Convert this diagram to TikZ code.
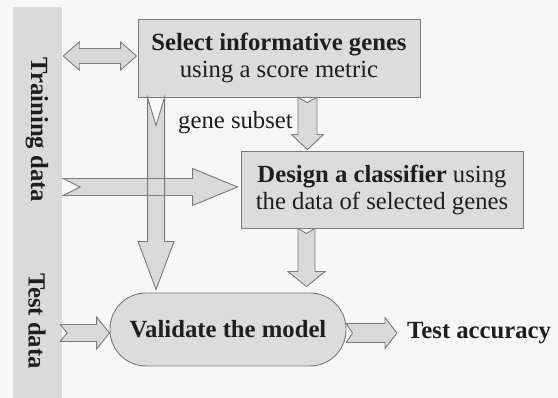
\documentclass[tikz,border=0pt]{standalone}
\usepackage{fontspec}
\setmainfont{Liberation Serif}
\usetikzlibrary{calc}
\definecolor{bgcol}{HTML}{F7F7F7}
\definecolor{stripcol}{HTML}{DADADA}
\definecolor{boxfill}{HTML}{DCDCDC}
\definecolor{arrfill}{HTML}{D9D9D9}
\definecolor{linecol}{HTML}{7A7A7A}
\definecolor{txtcol}{HTML}{1E1E1E}
\newcommand\blockarrow[7][]{%
  \coordinate (ba-hb) at ($(#3)!#6!(#2)$);
  \coordinate (ba-n) at ($(#2)!#7!(#3)$);
  \path[#1] ($(#2)!#4!-90:(#3)$) -- ($(ba-hb)!#4!90:(#2)$) -- ($(ba-hb)!#5!90:(#2)$) -- (#3)
    -- ($(ba-hb)!#5!-90:(#2)$) -- ($(ba-hb)!#4!-90:(#2)$) -- ($(#2)!#4!90:(#3)$) -- (ba-n) -- cycle;
}
\newcommand\dblarrow[6][]{%
  \coordinate (da-l) at ($(#2)!#6!(#3)$);
  \coordinate (da-r) at ($(#3)!#6!(#2)$);
  \path[#1] (#2) -- ($(da-l)!#5!-90:(#3)$) -- ($(da-l)!#4!-90:(#3)$) -- ($(da-r)!#4!90:(#2)$)
    -- ($(da-r)!#5!90:(#2)$) -- (#3) -- ($(da-r)!#5!-90:(#2)$) -- ($(da-r)!#4!-90:(#2)$)
    -- ($(da-l)!#4!90:(#3)$) -- ($(da-l)!#5!90:(#3)$) -- cycle;
}
\tikzset{
  txt/.style={text=txtcol, font=\fontsize{24.7}{27}\selectfont, inner sep=0pt},
  procbox/.style={txt, draw=linecol, fill=boxfill, line width=0.9pt, align=center,
    minimum width=282pt, minimum height=78pt},
  arrfillst/.style={fill=arrfill},
  arrdrawst/.style={draw=linecol, line width=0.9pt, line join=miter},
}
\begin{document}
\begin{tikzpicture}[x=1pt,y=-1pt]
\fill[bgcol] (0,0) rectangle (558,398);
\useasboundingbox (0,0) rectangle (558,398);
% left strip
\node[fill=stripcol, minimum width=49pt, minimum height=391pt, inner sep=0pt] (strip) at (37.5,202.5) {};
\node[txt, font=\fontsize{24.7}{27}\selectfont\bfseries, rotate=-90] (train) at (37,130) {Training data};
\node[txt, font=\fontsize{24.7}{27}\selectfont\bfseries, rotate=-90] (test) at (37,321) {Test data};
% boxes
\node[procbox] (sel) at (279,58) {\textbf{Select informative genes}\\using a score metric};
\node[procbox, minimum height=77pt] (des) at (382,189.5) {\textbf{Design a classifier} using\\the data of selected genes};
\node[txt, draw=linecol, fill=boxfill, line width=0.9pt, minimum width=236pt, minimum height=73pt,
  rounded corners=36pt, font=\fontsize{24.7}{27}\selectfont\bfseries] (val) at (228,329.5) {Validate the model};
\node[txt] (gs) at (235.5,123) {gene subset};
\node[txt, font=\fontsize{24.7}{27}\selectfont\bfseries, anchor=west] (acc) at (407,333) {Test accuracy};
% connector end points
\coordinate (dA) at ($(strip.east |- sel.west)+(1,-2)$);
\coordinate (dB) at ($(sel.west)+(-1,-2)$);
\coordinate (vA) at ($(sel.south west)+(18.5,0)$);
\coordinate (vB) at ($(vA |- val.north)+(0,-3)$);
\coordinate (hA) at ($(strip.east)+(1,0)$);
\coordinate (hA) at (hA |- 0,187);
\coordinate (hB) at ($(hA -| des.west)+(-3,0)$);
\coordinate (gA) at ($(sel.south)+(28.5,0)$);
\coordinate (gB) at ($(gA |- des.north)+(0,-1)$);
\coordinate (cA) at ($(des.south)+(-75.5,0)$);
\coordinate (cB) at ($(cA |- val.north)+(0,-6)$);
\coordinate (tA) at ($(strip.east |- 0,333)+(-2,0)$);
\coordinate (tB) at (val.west |- tA);
\coordinate (oA) at (val.east |- tA);
\coordinate (oB) at ($(acc.west)+(-10,0)$);
% arrows
\dblarrow[arrfillst,arrdrawst]{dA}{dB}{7.5pt}{14pt}{16pt}
\blockarrow[arrfillst]{vA}{vB}{8.5pt}{18pt}{48pt}{28pt}
\blockarrow[arrfillst]{hA}{hB}{8.5pt}{18.5pt}{45pt}{17pt}
\blockarrow[arrdrawst]{vA}{vB}{8.5pt}{18pt}{48pt}{28pt}
\blockarrow[arrdrawst]{hA}{hB}{8.5pt}{18.5pt}{45pt}{17pt}
\blockarrow[arrfillst,arrdrawst]{gA}{gB}{9.5pt}{16pt}{15pt}{5pt}
\blockarrow[arrfillst,arrdrawst]{cA}{cB}{8.5pt}{18.5pt}{15pt}{5pt}
\blockarrow[arrfillst,arrdrawst]{tA}{tB}{8.5pt}{16pt}{13pt}{7pt}
\blockarrow[arrfillst,arrdrawst]{oA}{oB}{9.5pt}{15.5pt}{12pt}{6pt}
\end{tikzpicture}
\end{document}
